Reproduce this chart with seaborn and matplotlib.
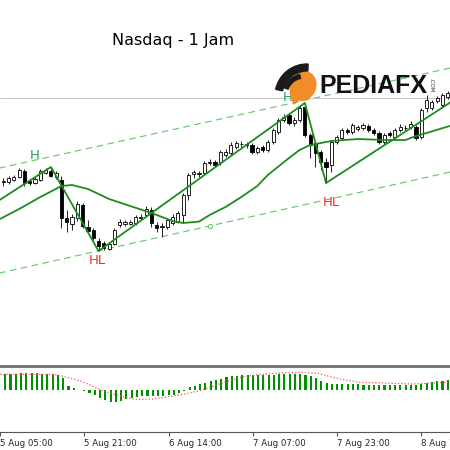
import matplotlib
matplotlib.use("Agg")
import numpy as np
import pandas as pd
import matplotlib.pyplot as plt
import matplotlib.patches as mpatches
import seaborn as sns

sns.set_theme(style="white")
plt.rcParams["font.family"] = ["DejaVu Sans"]

# ---- data (hourly bars, bar 0 = 5 Aug 05:00) ----
bar_idx = list(range(1, 86))
opens = [17690, 17690, 17700, 17715, 17745, 17695, 17685, 17700, 17735, 17745,
         17715, 17700, 17510, 17480, 17510, 17575, 17465, 17450, 17395, 17385,
         17355, 17380, 17475, 17480, 17482, 17485, 17510, 17525, 17550, 17475,
         17465, 17465, 17485, 17490, 17525, 17625, 17732, 17730, 17735, 17785,
         17790, 17790, 17825, 17835, 17865, 17878, 17875, 17875, 17840, 17865,
         17850, 17890, 17940, 18000, 18025, 17985, 18000, 18065, 17925, 17885,
         17840, 17790, 17775, 17890, 17910, 17950, 17940, 17955, 17960, 17970,
         17950, 17935, 17890, 17935, 17915, 17950, 17958, 17965, 17965, 17915,
         18060, 18060, 18095, 18075, 18115]
highs = [17710, 17720, 17725, 17760, 17755, 17705, 17715, 17755, 17760, 17765,
         17745, 17720, 17550, 17530, 17595, 17585, 17500, 17460, 17410, 17395,
         17390, 17460, 17505, 17500, 17500, 17525, 17530, 17570, 17565, 17490,
         17485, 17510, 17530, 17545, 17635, 17735, 17750, 17745, 17795, 17805,
         17800, 17850, 17855, 17890, 17895, 17895, 17890, 17885, 17870, 17875,
         17900, 17960, 18010, 18030, 18035, 18015, 18070, 18085, 17935, 17895,
         17850, 17810, 17900, 17925, 17960, 17960, 17985, 17975, 17985, 17980,
         17960, 17945, 17935, 17945, 17960, 17980, 17975, 17995, 17975, 18060,
         18125, 18100, 18120, 18135, 18145]
lows = [17670, 17680, 17695, 17710, 17670, 17675, 17680, 17695, 17730, 17715,
        17705, 17460, 17440, 17450, 17495, 17460, 17435, 17400, 17345, 17350,
        17350, 17375, 17465, 17470, 17475, 17475, 17500, 17515, 17465, 17440,
        17415, 17455, 17475, 17485, 17485, 17600, 17710, 17715, 17725, 17775,
        17765, 17775, 17815, 17825, 17855, 17865, 17860, 17830, 17830, 17840,
        17840, 17880, 17930, 17990, 17975, 17970, 17990, 17915, 17810, 17765,
        17750, 17685, 17740, 17880, 17900, 17930, 17930, 17945, 17950, 17940,
        17925, 17880, 17880, 17915, 17905, 17940, 17945, 17955, 17900, 17905,
        18040, 18050, 18085, 18065, 18105]
closes = [17695, 17710, 17715, 17750, 17685, 17685, 17705, 17745, 17750, 17720,
          17735, 17510, 17490, 17515, 17580, 17470, 17445, 17410, 17370, 17360,
          17380, 17450, 17490, 17490, 17488, 17515, 17515, 17555, 17485, 17460,
          17468, 17500, 17515, 17535, 17625, 17725, 17738, 17735, 17785, 17790,
          17775, 17840, 17840, 17875, 17885, 17882, 17878, 17840, 17860, 17850,
          17890, 17950, 18000, 18015, 17985, 18000, 18060, 17925, 17875, 17835,
          17790, 17765, 17890, 17915, 17950, 17940, 17975, 17965, 17975, 17950,
          17935, 17890, 17925, 17925, 17950, 17965, 17962, 17980, 17910, 18050,
          18100, 18090, 18110, 18125, 18135]

# slow moving average
ma_bars = [0, 4, 8, 12, 14, 17, 21, 25, 29, 33, 35, 38, 40, 43, 46, 49, 51,
           55, 57, 59, 63, 68, 73, 77, 79, 81, 86]
ma_vals = [17500, 17555, 17615, 17670, 17675, 17655, 17605, 17570, 17535,
           17495, 17485, 17492, 17525, 17565, 17615, 17670, 17725, 17810,
           17850, 17875, 17895, 17905, 17900, 17900, 17920, 17935, 17975]

# zigzag swing points
zz_bars = [0, 10, 19, 58, 62, 86.5]
zz_vals = [17595, 17765, 17345, 18085, 17685, 18105]

# trend channel
channel_bars = [0, 86]
upper_channel = [17758, 18263]
lower_channel = [17233, 17743]
gray_level = 18110

# oscillator (histogram + signal)
osma = [16, 16.5, 16.5, 17, 17, 17, 17, 16.5, 16, 16,
        15.5, 12, 4.5, 2.5, 0.5, -0.5, -3, -5, -8, -10,
        -12, -11.5, -10.5, -9, -7.5, -6.5, -6, -6, -5.5, -5.5,
        -5.5, -5, -4.5, -3, -1, 3, 4.5, 6, 7.5, 9,
        10.5, 11.5, 13, 14, 14.5, 15, 15.5, 15.5, 15, 15,
        15.5, 15.5, 16, 16, 16.5, 16.5, 16.5, 15.5, 14, 12,
        9.5, 7.5, 6.5, 6, 6, 6, 6, 6, 5.5, 5.5,
        5.5, 5.5, 5, 5, 5, 5, 5, 5, 5, 6,
        7, 8.5, 9, 9.5, 10]
sig_bars = [0, 10, 12, 15.5, 19.3, 23, 25.5, 28.7, 32.5, 35.7, 38.2, 42,
            45.7, 49.5, 54, 57, 60.3, 62.8, 66, 68.4, 72.8, 77.9, 81.1, 85.4]
sig_vals = [16, 16, 14, 9, 0, -6, -9, -9, -6, -3, 0, 7,
            13, 16, 17.5, 18, 17, 13.5, 9.7, 8, 7.3, 6.3, 7, 8]

tick_bars = [0, 16, 32, 48, 64, 80]
tick_labels = ["5 Aug 05:00", "5 Aug 21:00", "6 Aug 14:00",
               "7 Aug 07:00", "7 Aug 23:00", "8 Aug 16:00"]

candles = pd.DataFrame({"bar": bar_idx, "open": opens, "high": highs,
                        "low": lows, "close": closes})
up = candles["close"] >= candles["open"]

GREEN = "#1d8c1d"
XLIM = (0.378, 85.43)

fig = plt.figure(figsize=(4.5, 4.5), dpi=100)
fig.patch.set_facecolor("white")
ax = fig.add_axes([0, 85 / 450, 1, 365 / 450])
ax2 = fig.add_axes([0, 18 / 450, 1, 66 / 450])

# main price window
ax.plot(channel_bars, upper_channel, color="#63c463", lw=0.8, dashes=(6, 4), zorder=1)
ax.plot(channel_bars, lower_channel, color="#63c463", lw=0.8, dashes=(6, 4), zorder=1)
ax.plot([40], [17468], marker="o", ms=3, mfc="white", mec="#63c463", mew=0.7, zorder=1)
ax.axhline(gray_level, color="#c8c8c8", lw=0.8, zorder=1)

ax.vlines(candles["bar"], candles["low"], candles["high"], color="#222222", lw=0.7, zorder=2)
body_lo = np.minimum(candles["open"], candles["close"])
body_h = np.maximum((candles["close"] - candles["open"]).abs(), 2)
ax.bar(candles["bar"], body_h, bottom=body_lo, width=0.6,
       color=np.where(up, "white", "black"), edgecolor="black", linewidth=0.6, zorder=3)

sns.lineplot(x=ma_bars, y=ma_vals, ax=ax, color=GREEN, lw=1.3, zorder=4)
sns.lineplot(x=zz_bars, y=zz_vals, ax=ax, color=GREEN, lw=1.3, zorder=4)

ax.text(7.0, 17825, "H", color="#2e9b63", fontsize=9.5, ha="center", va="center")
ax.text(54.8, 18112, "H", color="#2e9b63", fontsize=9.5, ha="center", va="center")
ax.text(18.7, 17300, "HL", color="#ff2a2a", fontsize=9.5, ha="center", va="center")
ax.text(63.0, 17590, "HL", color="#ff2a2a", fontsize=9.5, ha="center", va="center")

ax.set_xlim(*XLIM)
ax.set_ylim(16775, 18600)
ax.set_axis_off()

# oscillator window
sns.barplot(x=bar_idx, y=osma, ax=ax2, native_scale=True, width=0.4,
            color="#009000", saturation=1, linewidth=0, errorbar=None)
sns.lineplot(x=sig_bars, y=sig_vals, ax=ax2, color="#ff5050", lw=0.9,
             linestyle=(0, (1, 1.6)))
ax2.set_xlim(*XLIM)
ax2.set_ylim(-41.7, 24.3)
ax2.set_facecolor("white")
ax2.set_xlabel("")
ax2.set_ylabel("")
ax2.set_yticks([])
for side in ["left", "right"]:
    ax2.spines[side].set_visible(False)
ax2.spines["top"].set_color("#707070")
ax2.spines["top"].set_linewidth(2)
ax2.spines["bottom"].set_color("#555555")
ax2.spines["bottom"].set_linewidth(0.8)
ax2.set_xticks(tick_bars)
ax2.set_xticklabels(tick_labels, ha="left")
ax2.tick_params(axis="x", direction="out", length=3, width=0.8, color="#555555",
                labelsize=6.2, pad=2, bottom=True)

# overlay: title and logo (pixel coordinates)
ov = fig.add_axes([0, 0, 1, 1], zorder=10)
ov.set_xlim(0, 450)
ov.set_ylim(450, 0)
ov.axis("off")
ov.patch.set_alpha(0)
ov.text(173, 40, "Nasdaq - 1 Jam", ha="center", va="center", fontsize=11.5, color="black")
ov.add_patch(mpatches.Ellipse((303, 86), 25, 29, angle=25, color="#f28c28"))
ov.add_patch(mpatches.Polygon([(290, 93), (302, 98), (294, 104)], color="#f28c28"))
ov.add_patch(mpatches.Wedge((307, 96), 32, 192, 272, width=7, color="#1a1a1a"))
ov.add_patch(mpatches.Wedge((304, 95), 21, 200, 258, width=4, color="#1a1a1a"))
ov.text(319, 93, "PEDIAFX", ha="left", va="baseline", fontsize=18, fontweight="bold",
        family=["Liberation Sans", "DejaVu Sans"], color="#111111")
ov.text(431, 85, ".COM", rotation=-90, fontsize=4, ha="center", va="center", color="#333333")

fig.savefig("out.png", dpi=100, facecolor="white")
